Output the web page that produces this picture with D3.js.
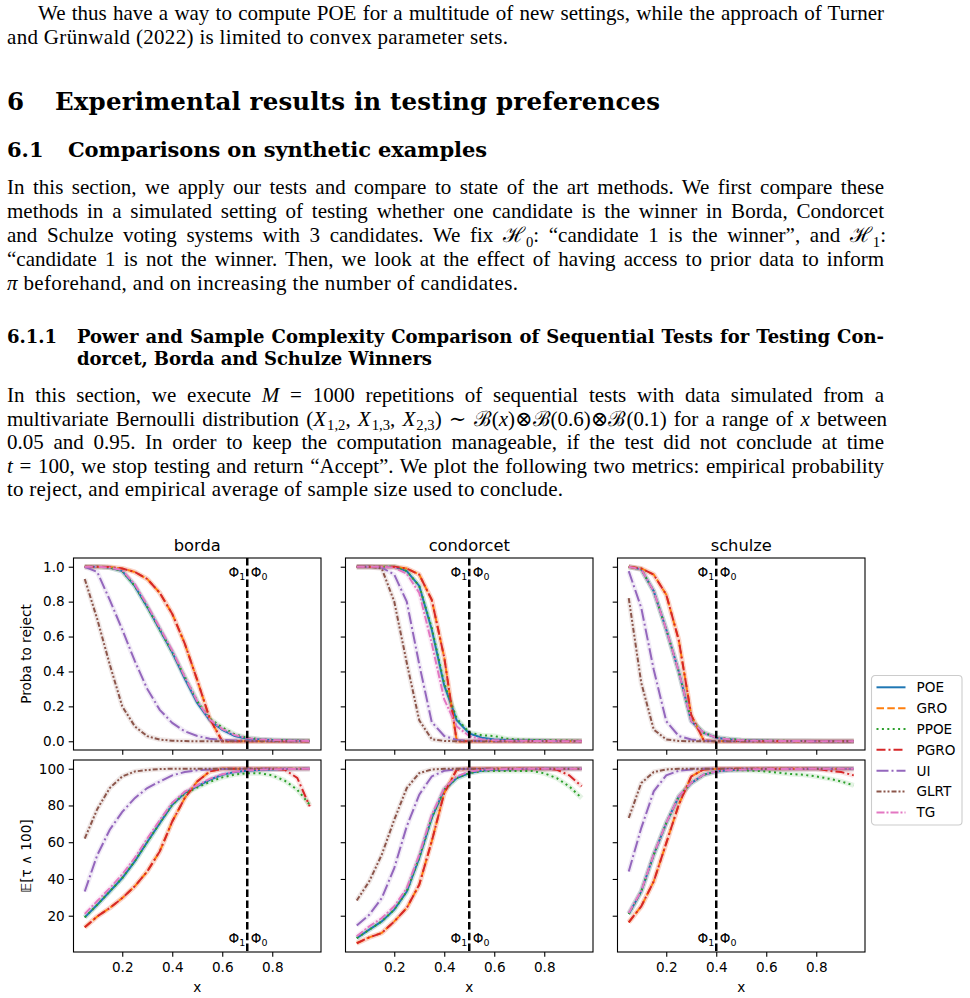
<!DOCTYPE html>
<html>
<head>
<meta charset="utf-8">
<script src="https://cdn.jsdelivr.net/npm/d3@7"></script>
<style>
body { margin: 0; background: #fff; }
text { fill: #000; }
</style>
</head>
<body>
<script>
// x grid of the simulation
var xs = [0.05,0.1,0.15,0.2,0.25,0.3,0.35,0.4,0.45,0.5,0.55,0.6,0.65,0.7,0.75,0.8,0.85,0.9,0.95];
var methods = ["POE","GRO","PPOE","PGRO","UI","GLRT","TG"];
var panels = ["borda","condorcet","schulze"];
var thresholds = [0.7, 0.5, 0.4];
var xTicks = [0.2, 0.4, 0.6, 0.8];
var rejectTicks = [0, 0.2, 0.4, 0.6, 0.8, 1.0];
var sizeTicks = [20, 40, 60, 80, 100];

// probability to reject, one row per method (order as in methods)
var bordaReject = [
  [1,1,0.995,0.975,0.89,0.77,0.64,0.51,0.36,0.22,0.12,0.065,0.03,0.015,0.01,0.007,0.005,0.003,0.002],
  [1,1,0.998,0.99,0.97,0.93,0.85,0.73,0.56,0.35,0.13,0,0,0,0,0,0,0,0],
  [1,1,0.995,0.975,0.89,0.77,0.64,0.51,0.37,0.23,0.13,0.08,0.04,0.02,0.012,0.008,0.006,0.004,0.003],
  [1,1,0.998,0.99,0.97,0.93,0.85,0.73,0.56,0.35,0.13,0,0,0,0,0,0,0,0],
  [1,0.97,0.81,0.64,0.46,0.30,0.18,0.105,0.057,0.03,0.015,0.008,0.005,0.003,0.002,0.001,0,0,0],
  [0.93,0.70,0.44,0.20,0.086,0.029,0.01,0.003,0.001,0,0,0,0,0,0,0,0,0,0],
  [1,1,0.995,0.98,0.90,0.78,0.65,0.52,0.37,0.23,0.125,0.07,0.035,0.018,0.012,0.008,0.005,0.003,0.002]
];
var condorcetReject = [
  [1,1,1,1,0.975,0.89,0.64,0.32,0.12,0.045,0.02,0.01,0.008,0.005,0.004,0.003,0.002,0.002,0.001],
  [1,1,1,1,0.99,0.955,0.81,0.48,0,0,0,0,0,0,0,0,0,0,0],
  [1,1,1,1,0.975,0.89,0.65,0.33,0.13,0.05,0.035,0.03,0.015,0.01,0.008,0.006,0.005,0.004,0.003],
  [1,1,1,1,0.99,0.955,0.81,0.48,0,0,0,0,0,0,0,0,0,0,0],
  [1,1,0.995,0.955,0.80,0.44,0.11,0.03,0.008,0.003,0.001,0,0,0,0,0,0,0,0],
  [1,1,0.99,0.80,0.45,0.12,0.012,0.002,0,0,0,0,0,0,0,0,0,0,0],
  [1,1,1,0.995,0.96,0.85,0.56,0.24,0.085,0.03,0.012,0.006,0.004,0.003,0.002,0.001,0.001,0,0]
];
var schulzeReject = [
  [1,0.985,0.86,0.64,0.40,0.115,0.048,0.02,0.012,0.006,0.004,0.003,0.002,0.001,0.001,0,0,0,0],
  [1,0.99,0.955,0.84,0.58,0.15,0.005,0,0,0,0,0,0,0,0,0,0,0,0],
  [1,0.985,0.86,0.64,0.40,0.12,0.05,0.022,0.014,0.008,0.005,0.004,0.003,0.002,0.001,0.001,0,0,0],
  [1,0.99,0.955,0.84,0.58,0.15,0.005,0,0,0,0,0,0,0,0,0,0,0,0],
  [0.975,0.765,0.41,0.115,0.03,0.01,0.003,0.001,0,0,0,0,0,0,0,0,0,0,0],
  [0.82,0.335,0.067,0.01,0.002,0,0,0,0,0,0,0,0,0,0,0,0,0,0],
  [1,0.985,0.86,0.64,0.40,0.115,0.048,0.02,0.012,0.006,0.004,0.003,0.002,0.001,0.001,0,0,0,0]
];

// expected sample size E[tau ^ 100]
var bordaSize = [
  [19.1,26,33.2,40.5,49.6,60.1,70.4,80.4,86.8,90.4,94,96.7,98.2,98.9,99.3,99.6,99.8,99.9,100],
  [13.7,19.6,24.2,29.6,36,44.1,55,71.3,84,93.1,98.5,100,100,100,100,100,100,100,100],
  [19.1,26,33.2,40.5,49.6,60.1,70.4,80.4,86.5,89.8,92.8,95.3,96.8,97.6,97.6,96.4,93.5,88.6,80.4],
  [13.7,19.6,24.2,29.6,36,44.1,55,71.3,84,93.1,98.5,100,100,100,100,100,99.5,95,79.5],
  [33.2,53,66.8,76.5,84,89.5,93,96.4,98.2,99.2,99.6,99.8,100,100,100,100,100,100,100],
  [62,78,89.5,95.8,98.5,99.3,99.8,100,100,100,100,100,100,100,100,100,100,100,100],
  [21,28,35,42.5,51.5,62,72,81.5,87.5,91,94.5,97,98.4,99,99.4,99.7,99.8,99.9,100]
];
var condorcetSize = [
  [7.8,12.4,16.9,23.3,33.2,51.4,73.2,88.6,94.9,97.6,98.9,99.4,99.6,99.8,99.9,100,100,100,100],
  [5,8.2,10.6,16.9,24.2,36.9,60.5,86.8,99.5,100,100,100,100,100,100,100,100,100,100],
  [7.8,12.4,16.9,23.3,33.2,51.4,73.2,88.6,94.9,97.6,98.7,98.8,98.8,98.8,98.8,97.5,94.9,90.4,84],
  [5,8.2,10.6,16.9,24.2,36.9,60.5,86.8,99.5,100,100,100,100,100,100,100,99.5,96.4,90.4],
  [14.7,20.5,29.6,45.9,68.6,85.9,95.8,98.9,99.7,100,100,100,100,100,100,100,100,100,100],
  [28.3,38.7,53.2,72.2,89.5,97.6,99.6,100,100,100,100,100,100,100,100,100,100,100,100],
  [8.8,14.2,18.7,25.1,35,53.2,75,89.5,95.8,98.5,99.3,99.7,99.8,99.9,100,100,100,100,100]
];
var schulzeSize = [
  [20.9,33.2,53.2,70.4,84.9,92.2,96.7,98.5,99.2,99.5,99.7,99.8,99.8,99.9,99.9,100,100,100,100],
  [16.4,25.1,38.7,59.5,80.4,95.8,99.6,100,100,100,100,100,100,100,100,100,100,100,100],
  [20.9,33.2,53.2,70.4,84.9,92.2,96.7,98.5,99.2,99.2,98.9,98.5,97.8,97.1,96.7,95.8,94.6,93.1,90.9],
  [16.4,25.1,38.7,59.5,80.4,95.8,99.6,100,100,100,100,100,100,100,100,100,98.9,98.2,96.4],
  [44.1,67.7,87.7,96.4,98.9,99.6,100,100,100,100,100,100,100,100,100,100,100,100,100],
  [73.2,92.2,98.2,99.6,100,100,100,100,100,100,100,100,100,100,100,100,100,100,100],
  [21.5,33.5,53.5,70.5,85,92.3,96.8,98.5,99.2,99.5,99.7,99.8,99.8,99.9,99.9,100,100,100,100]
];

var rejectData = [bordaReject, condorcetReject, schulzeReject];
var sizeData = [bordaSize, condorcetSize, schulzeSize];

var colors = ["#1f77b4","#ff7f0e","#2ca02c","#d62728","#9467bd","#8c564b","#e377c2"];
var dashes = [null, "7.5,3.3", "2,3.4", "9,3,2,3", "12,3,2,3", "5,2,2,2,2,2", "8,2,2,2"];

var W = 970, H = 998;
var svg = d3.select("body").append("svg")
    .attr("width", W)
    .attr("height", H);

// ---------------- page text ----------------
var serif = "'Liberation Serif', 'DejaVu Serif', serif";
var headSerif = "'DejaVu Serif', serif";
var sans = "'DejaVu Sans', sans-serif";

// *...* italic, _{...} subscript
function textLine(str, x, y, o) {
    var t = svg.append("text")
        .attr("x", x)
        .attr("y", y)
        .style("font-family", o.bold ? headSerif : serif)
        .style("font-size", o.size + "px")
        .style("font-weight", o.bold ? "bold" : "normal");
    var parts = str.split(/(\*[^*]+\*|_\{[^}]+\})/).filter(function(s){ return s.length; });
    var shift = 0;
    parts.forEach(function(p){
        var s = t.append("tspan");
        var want = 0;
        if (p[0] === "*") {
            s.text(p.slice(1, -1)).style("font-style", "italic");
        } else if (p[0] === "_") {
            s.text(p.slice(2, -1)).style("font-size", (o.size * 0.7) + "px").attr("dx", 1);
            want = o.size * 0.22;
        } else {
            s.text(p);
        }
        if (want !== shift) { s.attr("dy", want - shift); shift = want; }
    });
    if (o.width) {
        var len = t.node().getComputedTextLength();
        if (o.justify) {
            var n = (t.text().match(/ /g) || []).length;
            t.style("word-spacing", ((o.width - len) / n) + "px");
        } else {
            t.attr("textLength", o.width).attr("lengthAdjust", "spacing");
        }
    }
    return t;
}

var bodySize = 21;
var fullW = 877;

textLine("We thus have a way to compute POE for a multitude of new settings, while the approach of Turner", 38, 20, {size: bodySize, width: 846, justify: true});
textLine("and Grünwald (2022) is limited to convex parameter sets.", 7, 44, {size: bodySize, width: 501});

textLine("6", 7, 110, {size: 24.5, bold: true});
textLine("Experimental results in testing preferences", 55, 110, {size: 24.5, bold: true, width: 605});

textLine("6.1", 7, 157, {size: 21, bold: true});
textLine("Comparisons on synthetic examples", 68, 157, {size: 21, bold: true, width: 419});

var para1 = [
    "In this section, we apply our tests and compare to state of the art methods. We first compare these",
    "methods in a simulated setting of testing whether one candidate is the winner in Borda, Condorcet",
    "and Schulze voting systems with 3 candidates. We fix ℋ_{0}: “candidate 1 is the winner”, and ℋ_{1}:",
    "“candidate 1 is not the winner. Then, we look at the effect of having access to prior data to inform",
    "*π* beforehand, and on increasing the number of candidates."
];
para1.forEach(function(l, i){
    var last = i === para1.length - 1;
    textLine(l, 7, 194 + i * 24, {size: bodySize, width: last ? 511 : fullW, justify: !last});
});

textLine("6.1.1", 7, 343, {size: 18, bold: true});
textLine("Power and Sample Complexity Comparison of Sequential Tests for Testing Con-", 77, 343, {size: 18, bold: true, width: 807, justify: true});
textLine("dorcet, Borda and Schulze Winners", 77, 365, {size: 18, bold: true, width: 355});

var para2 = [
    "In this section, we execute *M* = 1000 repetitions of sequential tests with data simulated from a",
    "multivariate Bernoulli distribution (*X*_{1,2}, *X*_{1,3}, *X*_{2,3}) ∼ ℬ(*x*)⊗ℬ(0.6)⊗ℬ(0.1) for a range of *x* between",
    "0.05 and 0.95. In order to keep the computation manageable, if the test did not conclude at time",
    "*t* = 100, we stop testing and return “Accept”. We plot the following two metrics: empirical probability",
    "to reject, and empirical average of sample size used to conclude."
];
para2.forEach(function(l, i){
    var last = i === para2.length - 1;
    textLine(l, 7, 402 + i * 23.5, {size: bodySize, width: last ? 556 : fullW, justify: !last});
});

// ---------------- charts ----------------
var colLeft = [73.5, 345.5, 617.5], axW = 247.5;
var rowTop = [558, 760], axH = 192;
var tickFont = 13.6;

function padded(arrays) {
    var all = d3.merge(arrays.map(function(a){ return d3.merge(a); }));
    var e = d3.extent(all), m = (e[1] - e[0]) * 0.05;
    return [e[0] - m, e[1] + m];
}

var x = d3.scaleLinear()
    .domain([xs[0] - 0.05 * (xs[xs.length-1] - xs[0]), xs[xs.length-1] + 0.05 * (xs[xs.length-1] - xs[0])])
    .range([0, axW]);
var yReject = d3.scaleLinear().domain(padded(rejectData)).range([axH, 0]);
var ySize = d3.scaleLinear().domain(padded(sizeData)).range([axH, 0]);

var rows = [
    {data: rejectData, y: yReject, ticks: rejectTicks, fmt: d3.format(".1f"), label: "Proba to reject"},
    {data: sizeData, y: ySize, ticks: sizeTicks, fmt: d3.format("d"), label: "𝔼[τ ∧ 100]"}
];

rows.forEach(function(row, r){
    panels.forEach(function(name, c){
        var g = svg.append("g")
            .attr("transform", "translate(" + colLeft[c] + "," + rowTop[r] + ")");

        // x axis
        var xAxis = d3.axisBottom(x)
            .tickValues(xTicks)
            .tickSizeInner(4.8)
            .tickSizeOuter(0)
            .tickPadding(5.5)
            .tickFormat(r === 1 ? d3.format(".1f") : "");
        var xa = g.append("g")
            .attr("transform", "translate(0," + axH + ")")
            .call(xAxis);

        // y axis
        var yAxis = d3.axisLeft(row.y)
            .tickValues(row.ticks)
            .tickSizeInner(4.8)
            .tickSizeOuter(0)
            .tickPadding(4)
            .tickFormat(c === 0 ? row.fmt : "");
        var ya = g.append("g").call(yAxis);

        [xa, ya].forEach(function(a){
            a.select(".domain").remove();
            a.selectAll("line").attr("stroke", "#000").attr("stroke-width", 1.1);
            a.selectAll("text")
                .attr("fill", "#000")
                .style("font-family", sans)
                .style("font-size", tickFont + "px");
        });

        // series: light band first, then the line
        var line = d3.line()
            .x(function(d, i){ return x(xs[i]); })
            .y(function(d){ return row.y(d); });

        row.data[c].forEach(function(vals, m){
            g.append("path")
                .attr("d", line(vals))
                .attr("fill", "none")
                .attr("stroke", colors[m])
                .attr("stroke-opacity", 0.13)
                .attr("stroke-width", 5)
                .attr("stroke-linejoin", "round");
        });
        row.data[c].forEach(function(vals, m){
            g.append("path")
                .attr("d", line(vals))
                .attr("fill", "none")
                .attr("stroke", colors[m])
                .attr("stroke-width", 2)
                .attr("stroke-dasharray", dashes[m]);
        });

        // threshold line
        var tx = x(thresholds[c]);
        g.append("line")
            .attr("x1", tx).attr("x2", tx)
            .attr("y1", 0).attr("y2", axH)
            .attr("stroke", "#000")
            .attr("stroke-width", 2.5)
            .attr("stroke-dasharray", "7.5,3.3");

        var ly = r === 0 ? row.y(1) + 10 : row.y(5);
        [["1", tx - 2, "end"], ["0", tx + 3.5, "start"]].forEach(function(p){
            var t = g.append("text")
                .attr("x", p[1])
                .attr("y", ly)
                .attr("text-anchor", p[2])
                .style("font-family", sans)
                .style("font-size", tickFont + "px");
            t.append("tspan").text("Φ");
            t.append("tspan").attr("dy", 3).style("font-size", "9.5px").text(p[0]);
        });

        // frame
        g.append("rect")
            .attr("width", axW)
            .attr("height", axH)
            .attr("fill", "none")
            .attr("stroke", "#000")
            .attr("stroke-width", 1.1);

        if (r === 0) {
            g.append("text")
                .attr("x", axW / 2)
                .attr("y", -7.5)
                .attr("text-anchor", "middle")
                .style("font-family", sans)
                .style("font-size", "16.3px")
                .text(name);
        } else {
            g.append("text")
                .attr("x", axW / 2)
                .attr("y", 232)
                .attr("text-anchor", "middle")
                .style("font-family", sans)
                .style("font-size", tickFont + "px")
                .text("x");
        }
    });

    // y label
    svg.append("text")
        .attr("transform", "translate(31," + (rowTop[r] + axH / 2) + ") rotate(-90)")
        .attr("text-anchor", "middle")
        .style("font-family", sans)
        .style("font-size", tickFont + "px")
        .text(row.label);
});

// ---------------- legend ----------------
var leg = svg.append("g").attr("transform", "translate(871.5,675.5)");
leg.append("rect")
    .attr("width", 90.5)
    .attr("height", 149.5)
    .attr("rx", 3.5)
    .attr("fill", "#fff")
    .attr("fill-opacity", 0.8)
    .attr("stroke", "#ccc")
    .attr("stroke-width", 1.1);

methods.forEach(function(m, i){
    var yy = 11.8 + i * 20.85;
    leg.append("line")
        .attr("x1", 5).attr("x2", 34)
        .attr("y1", yy).attr("y2", yy)
        .attr("stroke", colors[i])
        .attr("stroke-width", 2)
        .attr("stroke-dasharray", dashes[i]);
    leg.append("text")
        .attr("x", 45)
        .attr("y", yy)
        .attr("dy", "0.36em")
        .style("font-family", sans)
        .style("font-size", tickFont + "px")
        .text(m);
});
</script>
</body>
</html>
